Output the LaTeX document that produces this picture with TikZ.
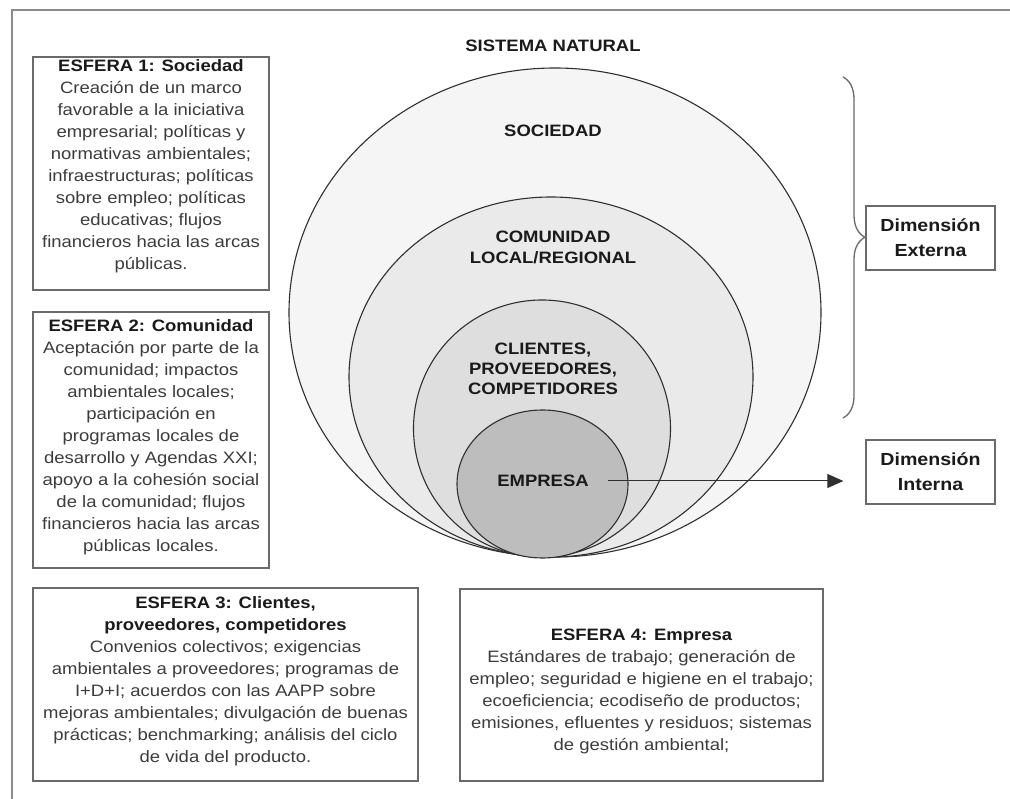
\documentclass[tikz,border=0pt]{standalone}
\usepackage{fontspec}
\setmainfont{Liberation Sans}[FakeStretch=1.12]
\usetikzlibrary{arrows.meta,decorations.pathreplacing}
\definecolor{framec}{HTML}{8C8C8C}
\definecolor{boxc}{HTML}{6A6A6A}
\definecolor{bodyc}{HTML}{3C3C3C}
\definecolor{titlec}{HTML}{1A1A1A}
\definecolor{linec}{HTML}{303030}
\definecolor{fillA}{HTML}{F5F5F5}
\definecolor{fillB}{HTML}{EAEAEA}
\definecolor{fillC}{HTML}{DEDEDE}
\definecolor{fillD}{HTML}{BDBDBD}
\begin{document}
\begin{tikzpicture}[x=1pt,y=-1pt,
  framebox/.style={draw=boxc, line width=1.4pt, fill=white, inner sep=0pt},
  body/.style={align=center, font=\fontsize{16.5}{22}\selectfont, text=bodyc, inner sep=0pt},
  ttl/.style={align=center, font=\bfseries\fontsize{16.5}{21}\selectfont, text=titlec, inner sep=0pt},
  ell/.style={draw=linec, line width=1.1pt},
  dimbox/.style={draw=boxc, line width=1.3pt, fill=white, align=center,
    font=\bfseries\fontsize{17.5}{25}\selectfont, text=titlec,
    minimum width=129pt, minimum height=64pt, inner sep=0pt}]
\useasboundingbox (0,0) rectangle (1010,799);
\fill[white] (0,0) rectangle (1010,799);
% outer frame
\draw[framec, line width=1.8pt] (12,799) -- (12,10) -- (1010,10);
% nested spheres
\draw[ell, fill=fillA] (555,312.5) ellipse [x radius=266pt, y radius=244.5pt];
\draw[ell, fill=fillB] (551,377) ellipse [x radius=202pt, y radius=180pt];
\draw[ell, fill=fillC] (542,428.5) ellipse [x radius=128.5pt, y radius=128.5pt];
\draw[ell, fill=fillD] (542.5,484) ellipse [x radius=85.5pt, y radius=74pt];
% labels
\node[ttl] (sn) at (553,46) {SISTEMA NATURAL};
\node[ttl] (soc) at (553,131) {SOCIEDAD};
\node[ttl] (com) at (553,247.5) {COMUNIDAD\\LOCAL/REGIONAL};
\node[ttl, font=\bfseries\fontsize{16.5}{20}\selectfont] (cli) at (543,368.5) {CLIENTES,\\PROVEEDORES,\\COMPETIDORES};
\node[ttl] (emp) at (543,481) {EMPRESA};
% dimension boxes
\node[dimbox] (dext) at (930.5,238) {Dimensión\\Externa};
\node[dimbox] (dint) at (930.5,472) {Dimensión\\Interna};
% brace
\coordinate (brtop) at (843,77);
\coordinate (brbot) at (843,418);
\draw[boxc, line width=1.3pt, decorate, decoration={brace, amplitude=22pt, aspect=0.47}] (brtop) -- (brbot);
% arrow
\draw[linec, line width=1pt, -{Triangle[length=16pt,width=14pt]}, shorten <=19pt, shorten >=22pt] (emp.east) -- (emp.east -| dint.west);
% sphere boxes
\node[framebox, minimum width=236pt, minimum height=233pt] (b1) at (151,173.5) {};
\node[body] (t1) at (151,166.5) {{\color{titlec}\bfseries ESFERA 1: Sociedad}\\
Creación de un marco\\
favorable a la iniciativa\\
empresarial; políticas y\\
normativas ambientales;\\
infraestructuras; políticas\\
sobre empleo; políticas\\
educativas; flujos\\
financieros hacia las arcas\\
públicas.};
\node[framebox, minimum width=236pt, minimum height=256pt] (b2) at (151,440) {};
\node[body] (t2) at (151,437.5) {{\color{titlec}\bfseries ESFERA 2: Comunidad}\\
Aceptación por parte de la\\
comunidad; impactos\\
ambientales locales;\\
participación en\\
programas locales de\\
desarrollo y Agendas XXI;\\
apoyo a la cohesión social\\
de la comunidad; flujos\\
financieros hacia las arcas\\
públicas locales.};
\node[framebox, minimum width=385pt, minimum height=193pt] (b3) at (225.5,684.5) {};
\node[body] (t3) at (225.5,681) {{\color{titlec}\bfseries ESFERA 3: Clientes,}\\
{\color{titlec}\bfseries proveedores, competidores}\\
Convenios colectivos; exigencias\\
ambientales a proveedores; programas de\\
I+D+I; acuerdos con las AAPP sobre\\
mejoras ambientales; divulgación de buenas\\
prácticas; benchmarking; análisis del ciclo\\
de vida del producto.};
\node[framebox, minimum width=363pt, minimum height=192pt] (b4) at (641.5,685) {};
\node[body] (t4) at (641.5,691) {{\color{titlec}\bfseries ESFERA 4: Empresa}\\
Estándares de trabajo; generación de\\
empleo; seguridad e higiene en el trabajo;\\
ecoeficiencia; ecodiseño de productos;\\
emisiones, efluentes y residuos; sistemas\\
de gestión ambiental;};
\end{tikzpicture}
\end{document}
